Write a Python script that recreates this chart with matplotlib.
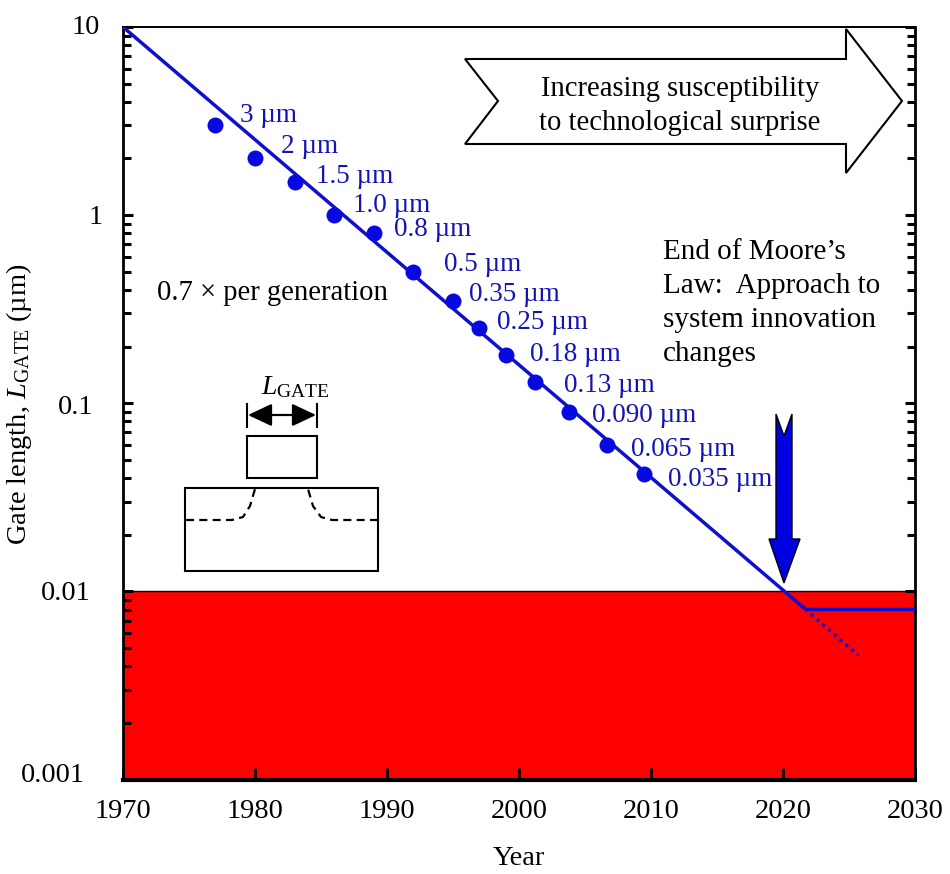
import numpy as np
import matplotlib.pyplot as plt
from matplotlib.patches import Polygon, Rectangle, FancyArrowPatch

plt.rcParams['font.family'] = ['Liberation Serif', 'DejaVu Serif']
plt.rcParams['mathtext.fontset'] = 'custom'
plt.rcParams['mathtext.it'] = 'Liberation Serif:italic'
plt.rcParams['mathtext.rm'] = 'Liberation Serif'

LINE_BLUE = '#0f0fcc'
DOT_BLUE = '#0808e0'
TEXT_BLUE = '#1414b4'

years = [1977, 1980, 1983, 1986, 1989, 1992, 1995, 1997, 1999, 2001.2, 2003.8, 2006.7, 2009.5]
gate_um = [3, 2, 1.5, 1.0, 0.8, 0.5, 0.35, 0.25, 0.18, 0.13, 0.09, 0.06, 0.042]
labels = ['3 µm', '2 µm', '1.5 µm', '1.0 µm', '0.8 µm', '0.5 µm', '0.35 µm', '0.25 µm',
          '0.18 µm', '0.13 µm', '0.090 µm', '0.065 µm', '0.035 µm']
label_year = [1978.9, 1982.0, 1984.6, 1987.4, 1990.5, 1994.3, 1996.2, 1998.3, 2000.8, 2003.4, 2005.5, 2008.5, 2011.3]
label_gate = [3.39, 2.32, 1.61, 1.13, 0.84, 0.547, 0.38, 0.27, 0.182, 0.125, 0.0865, 0.057, 0.0395]

trend_x = [1970, 2021.67]
trend_y = [10, 0.00807]
flat_x = [2021.67, 2030]
flat_y = [0.00807, 0.00807]
dotted_x = [2021.67, 2025.7]
dotted_y = [0.00807, 0.00457]

y_ticks = [0.001, 0.01, 0.1, 1, 10]
y_tick_labels = ['0.001', '0.01', '0.1', '1', '10']
# the reference labels are not right aligned, each sits at its own distance from the axis
y_label_right = [85, 91, 93, 103, 100]
y_label_centre = [775, 593, 407, 218, 28]

fig = plt.figure(figsize=(9.5, 8.74), dpi=100)
ax = fig.add_axes([123/950, 1-779.5/874, (915-123)/950, (779.5-27)/874])
ax.set_yscale('log')
ax.set_xlim(1970, 2030)
ax.set_ylim(0.001, 10)

ax.axhspan(0.001, 0.01, color='#fe0000', lw=0, zorder=1)
ax.axhline(0.01, color='black', lw=1, zorder=2)

ax.plot(trend_x, trend_y, color=LINE_BLUE, lw=2.5, zorder=3, solid_capstyle='butt')
ax.plot(flat_x, flat_y, color=LINE_BLUE, lw=2.5, zorder=3, solid_capstyle='butt')
ax.plot(dotted_x, dotted_y, color=LINE_BLUE, lw=2.4, ls=(0, (1, 1.3)), zorder=3)
ax.plot(years, gate_um, 'o', color=DOT_BLUE, ms=11.5, mew=0, zorder=4)

for x, y, t in zip(label_year, label_gate, labels):
    ax.text(x, y, t, color=TEXT_BLUE, fontsize=19.5, va='center', ha='left')

ax.set_xticks(np.arange(1970, 2031, 10))
ax.set_yticks(y_ticks)
ax.set_yticklabels([])
ax.tick_params(axis='x', which='major', direction='in', length=8.5, width=2, top=False,
               labelsize=20.5, pad=14)
ax.tick_params(axis='y', which='major', direction='in', length=7.5, width=2.2, right=True)
ax.tick_params(axis='y', which='minor', direction='in', length=5.8, width=2.2, right=True)
ax.yaxis.set_minor_locator(plt.LogLocator(base=10, subs=np.arange(2, 10), numticks=12))
ax.yaxis.set_minor_formatter(plt.NullFormatter())
ax.spines['top'].set_linewidth(1.4)
ax.spines['right'].set_linewidth(2)
ax.spines['left'].set_linewidth(2)
ax.spines['bottom'].set_linewidth(3)
ax.set_xlabel('Year', fontsize=20.5)
ax.xaxis.set_label_coords(0.5, -0.088)
ax.set_ylabel(r'Gate length, $\mathit{L}_{\mathrm{GATE}}$ (µm)', fontsize=20.5)
ax.yaxis.set_label_coords(-0.112, 0.499)

for v, t, r, c in zip(y_ticks, y_tick_labels, y_label_right, y_label_centre):
    fig.text(r/950, 1-c/874, t, fontsize=20.5, ha='right', va='center')

# right hand ticks are hidden behind the red band in the reference
fig.canvas.draw()
for tick in ax.yaxis.get_minor_ticks() + ax.yaxis.get_major_ticks():
    if tick.get_loc() < 0.01:
        tick.tick2line.set_visible(False)


# figure-pixel helper for the annotation shapes
def px(x, y):
    return (x/950, 1-y/874)


def poly(points, **kw):
    fig.add_artist(Polygon([px(*p) for p in points], transform=fig.transFigure, **kw))


# big outlined arrow
poly([(465, 59), (846, 59), (846, 29), (902, 101), (846, 173), (846, 144), (465, 144), (498, 101)],
     fc='white', ec='black', lw=1.5, zorder=5)
fig.text(*px(680, 106), 'Increasing susceptibility\nto technological surprise', fontsize=20.6,
         ha='center', va='center', linespacing=1.41, zorder=6)

fig.text(*px(663, 303), 'End of Moore’s\nLaw:  Approach to\nsystem innovation\nchanges', fontsize=21,
         ha='left', va='center', linespacing=1.39)
fig.text(*px(157, 293), '0.7 × per generation', fontsize=20.6, ha='left', va='center')

# blue down arrow
poly([(776, 414), (784, 436), (792, 414), (792, 539), (800, 539), (784, 583), (769, 539), (776, 539)],
     fc='#0000e0', ec='black', lw=1, zorder=5)

# transistor sketch
fig.add_artist(Rectangle(px(247, 478), 70/950, 42/874, transform=fig.transFigure, fc='none', ec='black', lw=1.5))
fig.add_artist(Rectangle(px(185, 571), 193/950, 83/874, transform=fig.transFigure, fc='none', ec='black', lw=1.5))
fig.add_artist(plt.Line2D([247/950, 247/950], [1-404/874, 1-427/874], transform=fig.transFigure, color='black', lw=1.5))
fig.add_artist(plt.Line2D([317/950, 317/950], [1-404/874, 1-427/874], transform=fig.transFigure, color='black', lw=1.5))
fig.add_artist(FancyArrowPatch(px(248, 415), px(316, 415), transform=fig.transFigure,
                               arrowstyle='<|-|>,head_length=0.7,head_width=0.33',
                               mutation_scale=21, color='black', lw=1.6, shrinkA=0, shrinkB=0))
fig.text(*px(295, 387), r'$\mathit{L}_{\mathrm{GATE}}$', fontsize=20, ha='center', va='center')
for xs, ys in [([186, 232, 243, 250, 255], [520, 520, 517, 506, 489]),
               ([378, 332, 321, 313, 308], [520, 520, 517, 506, 489])]:
    fig.add_artist(plt.Line2D([v/950 for v in xs], [1-v/874 for v in ys], transform=fig.transFigure,
                              color='black', lw=1.6, ls=(0, (3.6, 2.4))))

fig.savefig('out.png', dpi=100)
